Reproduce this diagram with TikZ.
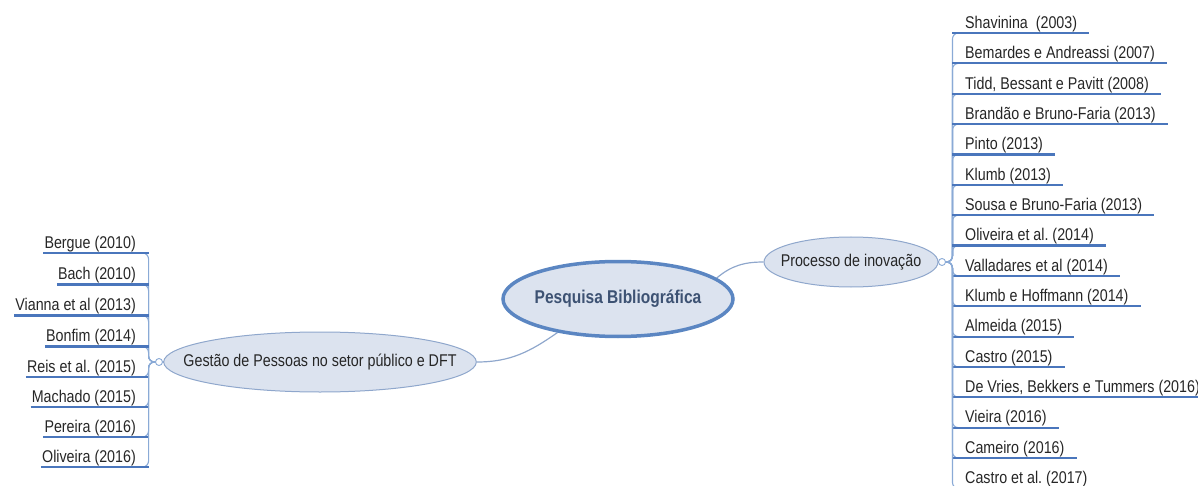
\documentclass[tikz,border=0pt]{standalone}
\usepackage{fontspec}
\setmainfont{Liberation Sans}[FakeStretch=0.84]
\usetikzlibrary{shapes.geometric,calc}
\pgfdeclarelayer{background}
\pgfsetlayers{background,main}
\definecolor{ulblue}{HTML}{4A76BC}
\definecolor{spineblue}{HTML}{8AAAD6}
\definecolor{bubblefill}{HTML}{DCE3EF}
\definecolor{bubbleline}{HTML}{8FA7CC}
\definecolor{rootline}{HTML}{5B86C2}
\definecolor{roottext}{HTML}{3D5273}
\definecolor{inktext}{HTML}{262626}
\frenchspacing
\begin{document}
\begin{tikzpicture}[x=1pt,y=-1pt,
  every node/.style={font=\fontsize{17}{20}\selectfont, text=inktext},
  root/.style={ellipse, draw=rootline, line width=3.5pt, fill=bubblefill,
    minimum width=230pt, minimum height=75pt, inner xsep=-3pt, inner ysep=0pt,
    font=\fontsize{18.5}{22}\selectfont\bfseries, text=roottext},
  topic/.style={ellipse, draw=bubbleline, line width=1pt, fill=bubblefill, inner ysep=0pt},
  hub/.style={circle, draw=spineblue, fill=white, line width=0.9pt, minimum size=7pt, inner sep=0pt},
  leaf/.style={inner xsep=0pt, inner ysep=0pt, text height=12.5pt, text depth=4.5pt},
  rleaf/.style={leaf, anchor=south west},
  lleaf/.style={leaf, anchor=south east},
  link/.style={draw=bubbleline, line width=1.2pt},
  spine/.style={draw=spineblue, line width=1.1pt, rounded corners=6pt},
  uline/.style={draw=ulblue, line width=2.2pt},
]
\useasboundingbox (0,0) rectangle (1198,486);

% central topic and the two main branches
\node[root] (pb) at (618,299) {Pesquisa Bibliográfica};
\node[topic, minimum width=174pt, minimum height=50pt, inner xsep=-9pt] (pi) at (851,262) {Processo de inovação};
\node[topic, minimum width=312pt, minimum height=60pt, inner xsep=-26pt] (gp) at (320,362) {Gestão de Pessoas no setor público e DFT};

\node[hub] (hubR) at (942,262) {};
\node[hub] (hubL) at (159,362) {};

\begin{pgfonlayer}{background}
  \draw[link] (pb.12) to[out=40,in=180] (pi.west);
  \draw[link] (pb.209) to[out=215,in=0] (gp.east);
\end{pgfonlayer}
\draw[link] (pi.east) -- (hubR.west);
\draw[link] (gp.west) -- (hubL.east);

% right-hand references
\foreach \t [count=\i] in {Shavinina~~(2003), Bemardes e Andreassi (2007),
  {Tidd, Bessant e Pavitt (2008)}, Brandão e Bruno-Faria (2013), Pinto (2013),
  Klumb (2013), Sousa e Bruno-Faria (2013), Oliveira et al. (2014),
  Valladares et al (2014), Klumb e Hoffmann (2014), Almeida (2015),
  Castro (2015), {De Vries, Bekkers e Tummers (2016)}, Vieira (2016),
  Cameiro (2016), Castro et al. (2017)}{
  \node[rleaf] (r\i) at (965,{33+30.36*(\i-1)}) {\t};
}
\foreach \i in {1,...,16}{
  \draw[spine] (hubR.east) -- ++(6.5,0) |- ($(r\i.south west)+(-5,0)$);
  \draw[uline] ($(r\i.south west)+(-13,0)$) -- ($(r\i.south east)+(12,0)$);
}

% left-hand references
\foreach \y/\t [count=\i] in {253/Bergue (2010), 284.5/Bach (2010),
  315.5/Vianna et al (2013), 346.5/Bonfim (2014), 377/Reis et al. (2015),
  407/Machado (2015), 437/Pereira (2016), 467/Oliveira (2016)}{
  \node[lleaf] (l\i) at (136,\y) {\t};
}
\foreach \i in {1,...,8}{
  \draw[spine] (hubL.west) -- ++(-6.5,0) |- ($(l\i.south east)+(5,0)$);
  \draw[uline] ($(l\i.south west)+(-1,0)$) -- ($(l\i.south east)+(13,0)$);
}
\end{tikzpicture}
\end{document}
